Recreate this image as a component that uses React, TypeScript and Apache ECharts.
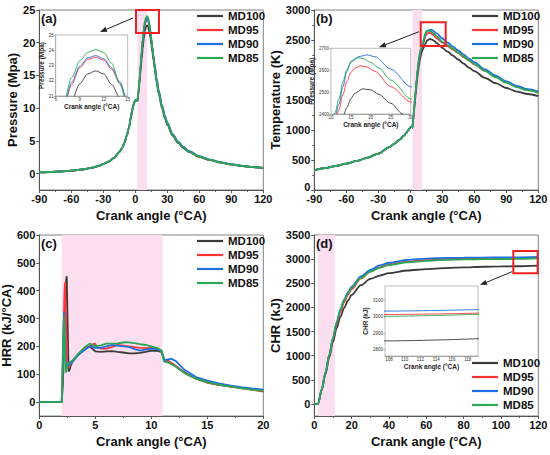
import React, { useEffect, useRef } from "react";
import * as echarts from "echarts";

const FONT = "'Liberation Sans', Arial, Helvetica, sans-serif";

const seriesNames = ["MD100", "MD95", "MD90", "MD85"];
const seriesColors = ["#3a3a3a", "#ff3535", "#1f6fe5", "#2aa853"];
const combustionBand = [2, 11];

// (a) Pressure (MPa)
const pressureCompression = [[-90, 0.2], [-80, 0.25], [-70, 0.33], [-60, 0.45], [-50, 0.63], [-40, 0.92], [-35, 1.15], [-30, 1.45], [-25, 1.85], [-20, 2.4], [-15, 3.3], [-12, 4.0], [-10, 4.8], [-8, 5.8], [-6, 7.0], [-4, 8.7], [-3, 9.6], [-2, 10.3], [-1, 10.9], [0, 11.2], [1, 11.25], [2, 11.1]];
const pressureMD100 = [[3, 12.3], [4, 14.0], [5, 15.8], [6, 17.5], [7, 19.2], [8, 20.7], [9, 21.8], [10, 22.45], [11, 22.65], [12, 22.45], [13, 21.75], [14, 20.9], [15, 19.8], [16, 18.6], [17, 17.4], [18, 16.2], [20, 13.95], [22, 12.2], [25, 10.0], [28, 8.35], [30, 7.45], [35, 5.8], [40, 4.7], [45, 3.92], [50, 3.33], [60, 2.55], [70, 2.06], [80, 1.67], [90, 1.39], [100, 1.16], [110, 0.98], [120, 0.84]];
const pressureMD95 = [[3, 12.5], [4, 14.4], [5, 16.4], [6, 18.4], [7, 20.3], [8, 21.75], [9, 22.85], [10, 23.4], [11, 23.55], [12, 23.35], [13, 22.75], [14, 21.85], [15, 20.55], [16, 19.2], [17, 17.9], [18, 16.7], [20, 14.35], [22, 12.55], [25, 10.3], [28, 8.6], [30, 7.7], [35, 5.97], [40, 4.85], [45, 4.04], [50, 3.43], [60, 2.62], [70, 2.11], [80, 1.71], [90, 1.42], [100, 1.18], [110, 1.0], [120, 0.86]];
const pressureMD90 = [[3, 12.5], [4, 14.4], [5, 16.5], [6, 18.5], [7, 20.4], [8, 21.9], [9, 22.95], [10, 23.5], [11, 23.65], [12, 23.45], [13, 22.85], [14, 21.95], [15, 20.65], [16, 19.35], [17, 18.05], [18, 16.85], [20, 14.5], [22, 12.7], [25, 10.45], [28, 8.75], [30, 7.8], [35, 6.05], [40, 4.92], [45, 4.1], [50, 3.48], [60, 2.66], [70, 2.14], [80, 1.73], [90, 1.44], [100, 1.2], [110, 1.01], [120, 0.87]];
const pressureMD85 = [[3, 12.6], [4, 14.6], [5, 16.7], [6, 18.7], [7, 20.6], [8, 22.2], [9, 23.3], [10, 23.85], [11, 24.05], [12, 23.85], [13, 23.15], [14, 21.8], [15, 20.35], [16, 19.0], [17, 17.7], [18, 16.5], [20, 14.2], [22, 12.4], [25, 10.2], [28, 8.5], [30, 7.6], [35, 5.9], [40, 4.8], [45, 4.0], [50, 3.4], [60, 2.6], [70, 2.1], [80, 1.7], [90, 1.42], [100, 1.18], [110, 1.0], [120, 0.86]];

// (b) Temperature (K)
const tempCompression = [[-90, 330], [-80, 365], [-70, 400], [-60, 438], [-50, 485], [-40, 540], [-30, 605], [-20, 712], [-15, 770], [-10, 840], [-6, 905], [-4, 945], [-2, 995], [-1, 1020], [0, 1042], [1, 1048], [2, 1042]];
const tempMD100 = [[3, 1210], [4, 1400], [5, 1590], [6, 1770], [7, 1930], [8, 2060], [9, 2170], [10, 2250], [11, 2310], [12, 2355], [13, 2390], [14, 2430], [15, 2470], [16, 2495], [18, 2515], [20, 2510], [22, 2490], [25, 2449], [28, 2400], [30, 2370], [35, 2305], [40, 2240], [45, 2175], [50, 2105], [55, 2040], [60, 1980], [70, 1870], [80, 1780], [90, 1700], [100, 1640], [110, 1600], [120, 1565]];
const tempMD95 = [[3, 1225], [4, 1430], [5, 1630], [6, 1820], [7, 1990], [8, 2130], [9, 2240], [10, 2320], [11, 2370], [12, 2420], [13, 2490], [14, 2550], [15, 2590], [16, 2610], [17.5, 2620], [19, 2615], [21, 2595], [25, 2525], [30, 2455], [35, 2395], [40, 2340], [45, 2280], [50, 2215], [55, 2155], [60, 2095], [70, 1985], [80, 1885], [90, 1795], [100, 1722], [110, 1670], [120, 1632]];
const tempMD90 = [[3, 1230], [4, 1440], [5, 1640], [6, 1840], [7, 2010], [8, 2160], [9, 2270], [10, 2345], [11, 2390], [12, 2445], [13, 2525], [14, 2595], [15, 2638], [17, 2662], [19, 2670], [21, 2662], [25, 2605], [30, 2525], [35, 2455], [40, 2390], [45, 2325], [50, 2255], [55, 2190], [60, 2130], [70, 2010], [80, 1905], [90, 1810], [100, 1735], [110, 1680], [120, 1640]];
const tempMD85 = [[3, 1235], [4, 1450], [5, 1660], [6, 1860], [7, 2030], [8, 2180], [9, 2290], [10, 2360], [11, 2405], [12, 2470], [13, 2545], [14, 2605], [15, 2640], [16, 2652], [17, 2657], [18, 2653], [20, 2635], [22, 2610], [25, 2555], [30, 2470], [35, 2415], [40, 2355], [45, 2290], [50, 2225], [55, 2160], [60, 2100], [70, 1985], [80, 1880], [90, 1790], [100, 1712], [110, 1660], [120, 1620]];

// (c) Heat release rate (kJ/°CA)
const hrrMD100 = [[0, 0], [2.0, 0], [2.1, 60], [2.25, 260], [2.4, 440], [2.45, 452], [2.52, 300], [2.62, 110], [2.7, 115], [2.8, 130], [3.0, 150], [3.3, 162], [3.6, 175], [4.0, 188], [4.3, 197], [4.5, 200], [4.7, 193], [5.0, 182], [5.5, 180], [6.0, 182], [6.5, 183], [7.0, 180], [7.5, 178], [8.0, 175], [8.5, 175], [9.0, 177], [9.5, 180], [10.0, 185], [10.5, 184], [10.9, 180], [11.05, 165], [11.15, 148], [11.5, 147], [12.0, 135], [12.5, 120], [13, 106], [14, 84], [15, 70], [16, 62], [17, 56], [18, 51], [19, 46], [20, 41]];
const hrrMD95 = [[0, 0], [2.0, 0], [2.1, 120], [2.25, 400], [2.3, 430], [2.38, 300], [2.5, 125], [2.6, 122], [2.8, 135], [3.0, 150], [3.5, 172], [4.0, 190], [4.5, 200], [4.8, 208], [4.95, 210], [5.2, 198], [5.5, 192], [6.0, 192], [6.5, 198], [7.0, 205], [7.5, 203], [8.0, 200], [8.5, 197], [9.0, 195], [9.5, 194], [10.0, 195], [10.5, 193], [10.9, 185], [11.05, 165], [11.15, 150], [11.5, 147], [12.0, 135], [12.5, 120], [13, 104], [14, 84], [15, 71], [16, 62], [17, 56], [18, 50], [19, 44], [20, 38]];
const hrrMD90 = [[0, 0], [2.0, 0], [2.1, 160], [2.2, 325], [2.28, 220], [2.4, 120], [2.6, 130], [2.8, 138], [3.0, 146], [3.5, 170], [4.0, 186], [4.5, 200], [4.8, 197], [5.0, 195], [5.5, 195], [6.0, 200], [6.5, 205], [7.0, 203], [7.5, 200], [8.0, 198], [8.5, 190], [9.0, 185], [9.5, 188], [10.0, 192], [10.5, 190], [10.9, 183], [11.05, 165], [11.2, 150], [11.5, 153], [11.8, 155], [12.2, 147], [12.6, 130], [13, 115], [14, 90], [15, 77], [16, 67], [17, 60], [18, 54], [19, 49], [20, 45]];
const hrrMD85 = [[0, 0], [2.0, 0], [2.1, 150], [2.2, 310], [2.28, 200], [2.35, 105], [2.5, 125], [2.6, 140], [2.8, 145], [3.0, 150], [3.5, 175], [4.0, 195], [4.5, 210], [4.8, 205], [5.0, 200], [5.5, 204], [6.0, 210], [6.5, 210], [7.0, 211], [7.5, 214], [7.8, 215], [8.5, 212], [9.0, 208], [9.5, 205], [10.0, 200], [10.5, 195], [10.9, 185], [11.05, 160], [11.15, 145], [11.5, 142], [12.0, 132], [12.5, 118], [13, 103], [14, 84], [15, 72], [16, 63], [17, 56], [18, 50], [19, 45], [20, 40]];

// (d) Cumulative heat release (kJ)
const chrMD100 = [[0, 0], [2, 0], [4, 290], [6, 620], [8, 960], [10, 1280], [12, 1570], [14, 1810], [16, 1990], [18, 2140], [20, 2260], [25, 2460], [30, 2590], [35, 2660], [40, 2710], [50, 2765], [60, 2795], [70, 2815], [80, 2830], [90, 2842], [100, 2850], [108, 2853], [120, 2867]];
const chrMD95 = [[0, 0], [2, 0], [4, 300], [6, 650], [8, 1000], [10, 1340], [12, 1660], [14, 1920], [16, 2110], [18, 2260], [20, 2380], [25, 2600], [30, 2740], [35, 2830], [40, 2890], [50, 2950], [60, 2980], [70, 2998], [80, 3007], [90, 3011], [100, 3013], [108, 3015], [120, 3024]];
const chrMD90 = [[0, 0], [2, 0], [4, 300], [6, 650], [8, 1010], [10, 1360], [12, 1690], [14, 1960], [16, 2160], [18, 2310], [20, 2430], [25, 2640], [30, 2775], [35, 2870], [40, 2925], [50, 2985], [60, 3012], [70, 3024], [80, 3030], [90, 3033], [100, 3034], [108, 3036], [120, 3046]];
const chrMD85 = [[0, 0], [2, 0], [4, 305], [6, 660], [8, 1020], [10, 1370], [12, 1700], [14, 1960], [16, 2150], [18, 2290], [20, 2410], [25, 2610], [30, 2740], [35, 2820], [40, 2875], [50, 2935], [60, 2965], [70, 2985], [80, 2996], [90, 3000], [100, 3002], [108, 3004], [120, 3017]];

const yTicksA = [0, 5, 10, 15, 20, 25];
const yTicksC = [0, 100, 200, 300, 400, 500, 600];
const yTicksD = [0, 500, 1000, 1500, 2000, 2500, 3000, 3500];
const insetXTicksD = [108, 110, 112, 114, 116, 118];
const insetYTicksD = [2800, 2900, 3000, 3100];

const pressureData = [
  [...pressureCompression, ...pressureMD100],
  [...pressureCompression, ...pressureMD95],
  [...pressureCompression, ...pressureMD90],
  [...pressureCompression, ...pressureMD85],
];
const tempData = [
  [...tempCompression, ...tempMD100],
  [...tempCompression, ...tempMD95],
  [...tempCompression, ...tempMD90],
  [...tempCompression, ...tempMD85],
];
const hrrData = [hrrMD100, hrrMD95, hrrMD90, hrrMD85];
const chrData = [chrMD100, chrMD95, chrMD90, chrMD85];

const AXIS_COLOR = "#555";
const plain = (v: number) => String(v);
// Lift the bottom-corner "0" slightly so it clears the x-axis "-90" label
const liftZero = (v: number) => (v === 0 ? "{lo|0}" : String(v));

function mainXAxis(gridIndex: number, min: number, max: number, interval: number) {
  return {
    type: "value", gridIndex, min, max, interval,
    name: "Crank angle (°CA)", nameLocation: "middle", nameGap: 19,
    nameTextStyle: { fontSize: 13, fontWeight: "bold", color: "#111", fontFamily: FONT },
    axisLine: { show: true, onZero: false, lineStyle: { color: AXIS_COLOR, width: 1 } },
    axisTick: { show: true, inside: false, length: 3, lineStyle: { color: AXIS_COLOR } },
    minorTick: { show: true, splitNumber: 2, length: 2, lineStyle: { color: AXIS_COLOR } },
    splitLine: { show: false },
    axisLabel: { margin: 3.5, fontSize: 11, fontWeight: "bold", color: "#111", fontFamily: FONT, formatter: plain },
  };
}

function mainYAxis(gridIndex: number, name: string, min: number, max: number, nameGap: number, ticks?: number[], interval?: number, lift?: boolean) {
  const ax: any = {
    type: "value", gridIndex, min, max,
    name, nameLocation: "middle", nameGap, nameRotate: 90,
    nameTextStyle: { fontSize: 13, fontWeight: "bold", color: "#111", fontFamily: FONT },
    axisLine: { show: true, onZero: false, lineStyle: { color: AXIS_COLOR, width: 1 } },
    axisTick: { show: true, inside: false, length: 3, lineStyle: { color: AXIS_COLOR } },
    splitLine: { show: false },
    axisLabel: {
      margin: 4, fontSize: 11, fontWeight: "bold", color: "#111", fontFamily: FONT,
      formatter: lift ? liftZero : plain,
      rich: { lo: { fontSize: 11, fontWeight: "bold", color: "#111", fontFamily: FONT, padding: [0, 0, 7, 0] } },
    },
  };
  if (ticks) {
    ax.axisLabel.customValues = ticks;
    ax.axisTick.customValues = ticks;
  } else {
    ax.interval = interval;
    ax.minorTick = { show: true, splitNumber: 2, length: 2, lineStyle: { color: AXIS_COLOR } };
  }
  return ax;
}

function insetAxis(kind: "x" | "y", gridIndex: number, name: string, min: number, max: number, nameGap: number, interval?: number, ticks?: number[]) {
  const ax: any = {
    type: "value", gridIndex, min, max,
    name, nameLocation: "middle", nameGap,
    nameTextStyle: { fontSize: 6.5, fontWeight: "bold", color: "#222", fontFamily: FONT },
    axisLine: { show: true, onZero: false, lineStyle: { color: "#888", width: 0.8 } },
    axisTick: { show: true, inside: false, length: 1.5, lineStyle: { color: "#888", width: 0.6 } },
    splitLine: { show: false },
    axisLabel: { margin: kind === "x" ? 1 : 2, fontSize: 4.5, color: "#333", fontFamily: FONT, formatter: plain },
  };
  if (kind === "y") ax.nameRotate = 90;
  if (ticks) {
    ax.axisLabel.customValues = ticks;
    ax.axisTick.customValues = ticks;
  } else {
    ax.interval = interval;
  }
  return ax;
}

function lineSeries(axisIndex: number, datasets: number[][][], width: number, smooth: boolean | number, z: number) {
  return datasets.map((data, i) => ({
    type: "line",
    name: seriesNames[i],
    xAxisIndex: axisIndex,
    yAxisIndex: axisIndex,
    data,
    showSymbol: false,
    symbol: "none",
    smooth,
    smoothMonotone: "x",
    color: seriesColors[i],
    lineStyle: { width, color: seriesColors[i] },
    itemStyle: { color: seriesColors[i] },
    z,
    silent: true,
  }));
}

function bandSeries(axisIndex: number) {
  return {
    type: "line",
    xAxisIndex: axisIndex,
    yAxisIndex: axisIndex,
    data: [],
    silent: true,
    z: 1,
    markArea: {
      silent: true,
      itemStyle: { color: "#fbdff0" },
      data: [[{ xAxis: combustionBand[0] }, { xAxis: combustionBand[1] }]],
    },
  };
}

function legendAt(left: number, top: number) {
  return {
    data: seriesNames,
    left, top,
    orient: "vertical",
    icon: "rect",
    itemWidth: 26,
    itemHeight: 2.2,
    itemGap: 0,
    padding: 0,
    selectedMode: false,
    textStyle: { fontSize: 11.5, fontWeight: "bold", color: "#111", fontFamily: FONT, lineHeight: 14 },
  };
}

function arrow(x1: number, y1: number, x2: number, y2: number) {
  const dx = x2 - x1, dy = y2 - y1;
  const len = Math.sqrt(dx * dx + dy * dy);
  const ux = dx / len, uy = dy / len;
  const hl = 7, hw = 2.6;
  const bx = x2 - ux * hl, by = y2 - uy * hl;
  return [
    { type: "line", z: 20, shape: { x1, y1, x2: bx, y2: by }, style: { stroke: "#222", lineWidth: 1 } },
    { type: "polygon", z: 20, shape: { points: [[x2, y2], [bx - uy * hw, by + ux * hw], [bx + uy * hw, by - ux * hw]] }, style: { fill: "#222" } },
  ];
}

function redBox(x: number, y: number, w: number, h: number) {
  return { type: "rect", z: 20, shape: { x, y, width: w, height: h }, style: { fill: "none", stroke: "#ee2222", lineWidth: 2 } };
}

function panelLabel(text: string, x: number, y: number) {
  return { type: "text", z: 20, x, y, style: { text, fontSize: 13, fontWeight: "bold", fontFamily: FONT, fill: "#111" } };
}

export default function App() {
  const ref = useRef<HTMLDivElement>(null);
  useEffect(() => {
    if (!ref.current) return;
    const chart = echarts.init(ref.current, undefined, { renderer: "svg" });
    const mainGrid = { show: true, borderColor: "#808080", borderWidth: 1, backgroundColor: "transparent", containLabel: false, outerBoundsMode: "none" };
    const insetGrid = { show: true, borderColor: "#aaa", borderWidth: 0.8, backgroundColor: "#fff", containLabel: false, outerBoundsMode: "none", z: 4 };
    const option: any = {
      animation: false,
      backgroundColor: "#fff",
      textStyle: { fontFamily: FONT },
      grid: [
        { ...mainGrid, left: 39.3, top: 10, width: 224, height: 180 },
        { ...mainGrid, left: 314.3, top: 10, width: 224, height: 180 },
        { ...mainGrid, left: 39.3, top: 235, width: 224, height: 181 },
        { ...mainGrid, left: 314.3, top: 235, width: 224, height: 181 },
        { ...insetGrid, left: 55.7, top: 35, width: 72, height: 61 },
        { ...insetGrid, left: 331, top: 48.3, width: 79.7, height: 65.7 },
        { ...insetGrid, left: 385, top: 286, width: 93, height: 70 },
      ],
      xAxis: [
        mainXAxis(0, -90, 120, 30),
        mainXAxis(1, -90, 120, 30),
        mainXAxis(2, 0, 20, 5),
        mainXAxis(3, 0, 120, 20),
        insetAxis("x", 4, "Crank angle (°CA)", 6, 15, 7, 3),
        insetAxis("x", 5, "Crank angle (°CA)", 10, 30, 6, 5),
        insetAxis("x", 6, "Crank angle (°CA)", 107.5, 119.3, 7, undefined, insetXTicksD),
      ],
      yAxis: [
        mainYAxis(0, "Pressure (Mpa)", -2.5, 25, 16, yTicksA),
        mainYAxis(1, "Temperature (K)", 0, 3000, 24, undefined, 500, true),
        mainYAxis(2, "HRR (kJ/°CA)", -50, 600, 22, yTicksC),
        mainYAxis(3, "CHR (kJ)", -250, 3500, 22, yTicksD),
        insetAxis("y", 4, "Pressure (Mpa)", 21, 25, 7, 1),
        insetAxis("y", 5, "Pressure (Mpa)", 2400, 2700, 10, 100),
        insetAxis("y", 6, "CHR (kJ)", 2760, 3190, 10, undefined, insetYTicksD),
      ],
      legend: [legendAt(197, 9), legendAt(472, 9), legendAt(197, 234), legendAt(472, 356)],
      series: [
        bandSeries(0), bandSeries(1), bandSeries(2), bandSeries(3),
        ...lineSeries(0, pressureData, 1.8, 0.3, 2),
        ...lineSeries(1, tempData, 1.8, 0.3, 2),
        ...lineSeries(2, hrrData, 1.8, false, 2),
        ...lineSeries(3, chrData, 1.8, 0.3, 2),
        ...lineSeries(4, pressureData, 0.9, 0.3, 6),
        ...lineSeries(5, tempData, 0.9, 0.3, 6),
        ...lineSeries(6, chrData, 0.9, 0.3, 6),
      ],
      graphic: [
        panelLabel("(a)", 41, 12),
        panelLabel("(b)", 316, 12),
        panelLabel("(c)", 41, 237),
        panelLabel("(d)", 316, 237),
        redBox(136, 10, 23, 23),
        redBox(420.7, 22.3, 25, 23.7),
        redBox(513.3, 251, 24.4, 22.3),
        ...arrow(133, 18, 100, 32),
        ...arrow(419, 31.7, 379, 47.3),
        ...arrow(512, 271.7, 480, 285),
      ],
    };
    chart.setOption(option);
    return () => chart.dispose();
  }, []);
  return <div ref={ref} style={{ position: "absolute", left: 0, top: 0, width: 550, height: 455, background: "#fff" }} />;
}
